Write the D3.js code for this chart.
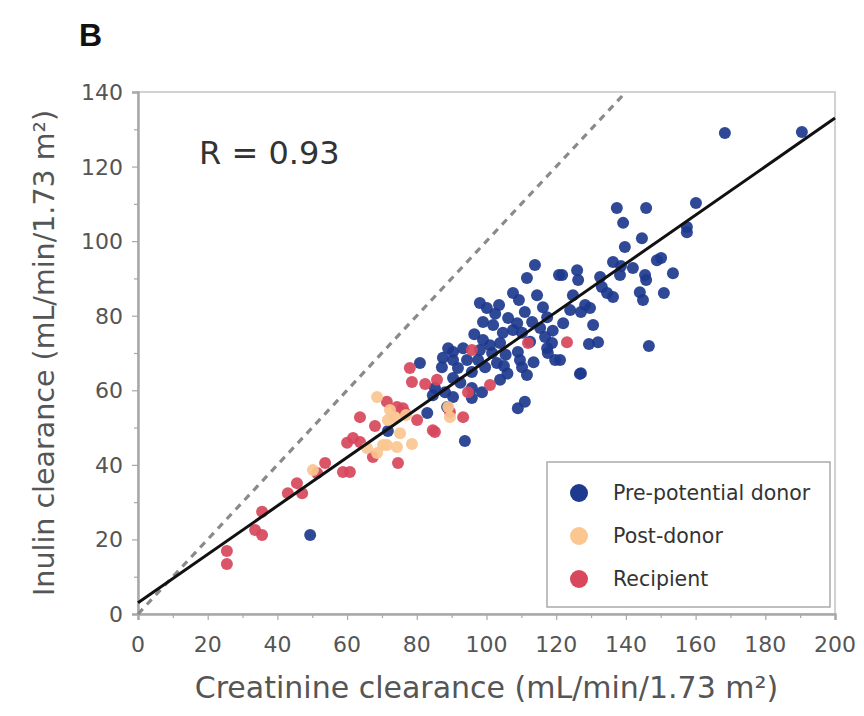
<!DOCTYPE html>
<html><head><meta charset="utf-8">
<script src="https://cdn.jsdelivr.net/npm/d3@7"></script>
<style>body{margin:0;background:#fff}svg{display:block}</style>
</head><body>
<script>
// ---- data ----
const preDonor = [[168.4,129.0],[190.5,129.3],[137.4,108.9],[145.8,108.9],[139.2,104.9],[160.1,110.2],[157.5,103.8],[157.5,102.4],[144.6,100.8],[139.7,98.4],[136.3,94.4],[148.9,94.9],[150.1,95.5],[138.6,93.3],[142.0,92.8],[153.5,91.4],[145.5,90.9],[145.8,89.6],[138.3,90.9],[126.0,92.2],[126.3,89.6],[121.7,90.9],[132.6,90.4],[133.1,87.7],[136.3,85.0],[134.6,86.1],[124.8,85.5],[144.0,86.3],[144.9,84.2],[150.9,86.1],[128.3,82.9],[129.7,82.1],[127.1,81.0],[122.0,78.0],[130.6,77.5],[129.4,72.4],[132.0,72.9],[146.6,71.9],[121.1,68.1],[127.1,64.6],[113.9,93.6],[111.6,90.1],[120.8,90.9],[107.6,86.1],[109.3,84.2],[114.5,85.5],[98.1,83.4],[100.1,82.1],[103.6,82.9],[116.2,82.3],[99.0,78.3],[101.9,77.5],[106.2,79.4],[108.8,78.0],[113.1,78.3],[117.4,79.6],[104.7,75.4],[107.6,76.2],[110.2,75.4],[115.4,76.7],[99.0,73.5],[101.0,72.1],[103.9,72.7],[116.8,74.3],[118.8,72.7],[89.0,71.3],[90.4,70.3],[93.3,71.3],[98.1,70.8],[101.6,70.0],[109.0,70.3],[117.4,71.3],[117.6,70.0],[87.5,68.7],[90.4,68.1],[94.4,68.1],[97.6,68.1],[109.6,68.1],[119.7,68.1],[80.9,67.3],[87.2,66.2],[91.8,66.0],[95.8,64.9],[99.6,66.2],[103.0,67.3],[110.2,66.2],[111.6,64.1],[126.8,64.4],[85.2,60.6],[90.4,63.3],[95.8,60.6],[88.1,59.5],[103.9,62.8],[98.7,59.5],[84.6,58.7],[95.8,57.9],[90.4,58.2],[109.0,55.2],[111.0,56.9],[88.7,55.5],[83.0,53.9],[93.8,46.4],[71.7,49.1],[49.4,21.2],[105.5,69.5],[96.5,75.0],[112.5,73.0],[106.0,64.5],[92.5,62.0],[102.5,80.5],[111.0,81.0],[119.0,76.0],[124.0,81.5],[105.0,66.5],[113.5,67.5]];
const postDonor = [[50.2,38.6],[68.6,58.2],[65.7,44.5],[71.4,45.3],[74.3,44.8],[78.6,45.6],[73.7,52.8],[71.7,52.0],[75.2,48.5],[68.6,43.2],[89.0,55.5],[89.5,52.8],[70.3,45.3],[72.3,54.7],[76.9,53.4]];
const recipient = [[25.5,16.9],[25.5,13.4],[33.6,22.5],[35.6,21.2],[35.6,27.4],[43.0,32.4],[47.1,32.4],[45.6,35.1],[53.7,40.5],[51.4,37.8],[58.8,38.1],[60.8,38.1],[60.0,45.9],[63.7,46.1],[67.4,42.1],[74.6,40.5],[61.7,47.2],[63.7,52.8],[68.0,50.4],[71.4,56.9],[74.3,55.5],[76.0,55.2],[80.1,52.0],[84.6,49.3],[78.0,66.0],[78.6,62.2],[82.4,61.7],[85.8,62.8],[111.9,72.7],[123.1,72.9],[95.8,70.8],[101.0,61.4],[94.7,59.5],[89.5,54.2],[93.3,52.8],[76.6,53.9],[85.2,48.8]];
const seriesNames = ["Pre-potential donor","Post-donor","Recipient"];
const seriesColors = ["#1d3a8e","#fbc690","#d8475c"];
const regression = {intercept: 3, slope: 0.65};
const rText = "R = 0.93";
const xTicks = [0,20,40,60,80,100,120,140,160,180,200];
const yTicks = [0,20,40,60,80,100,120,140];

// ---- layout ----
const W = 864, H = 716;
const m = {left:138, right:29, top:92, bottom:102};
const svg = d3.select("body").append("svg").attr("width",W).attr("height",H);
const x = d3.scaleLinear().domain([0,200]).range([m.left, W-m.right]);
const y = d3.scaleLinear().domain([0,140]).range([H-m.bottom, m.top]);
const font = "'DejaVu Sans', Verdana, sans-serif";
const axisCol = "#a8a8a8", textCol = "#555";

// frame
svg.append("rect").attr("x",x(0)).attr("y",y(140)).attr("width",x(200)-x(0)).attr("height",y(0)-y(140))
  .attr("fill","none").attr("stroke","#d2d2d2").attr("stroke-width",2);

// axes
const xAx = svg.append("g").attr("transform",`translate(0,${y(0)})`)
  .call(d3.axisBottom(x).tickValues(d3.range(0,201,10)).tickSize(6).tickFormat(""));
const yAx = svg.append("g").attr("transform",`translate(${x(0)},0)`)
  .call(d3.axisLeft(y).tickValues(d3.range(0,141,10)).tickSize(6).tickFormat(""));
[xAx,yAx].forEach(g=>{
  g.select(".domain").attr("stroke",axisCol).attr("stroke-width",2.5);
  g.selectAll(".tick line").attr("stroke",axisCol).attr("stroke-width",1.2);
});
xAx.selectAll(".tick").filter(d=>d%20!==0).select("line").attr("y2",4);
yAx.selectAll(".tick").filter(d=>d%20!==0).select("line").attr("x2",-4);

svg.append("g").selectAll("text").data(xTicks).join("text")
  .attr("x",d=>x(d)).attr("y",y(0)+38).attr("text-anchor","middle")
  .attr("font-family",font).attr("font-size",22).attr("fill",textCol).text(d=>d);
svg.append("g").selectAll("text").data(yTicks).join("text")
  .attr("x",x(0)-15).attr("y",d=>y(d)+8).attr("text-anchor","end")
  .attr("font-family",font).attr("font-size",22).attr("fill",textCol).text(d=>d);

// titles
svg.append("text").attr("x",(x(0)+x(200))/2).attr("y",698).attr("text-anchor","middle")
  .attr("font-family",font).attr("font-size",30).attr("fill",textCol)
  .text("Creatinine clearance (mL/min/1.73 m²)");
svg.append("text").attr("transform",`translate(54,${(y(0)+y(140))/2}) rotate(-90)`).attr("text-anchor","middle")
  .attr("font-family",font).attr("font-size",28.5).attr("fill",textCol)
  .text("Inulin clearance (mL/min/1.73 m²)");
svg.append("text").attr("x",79).attr("y",46).attr("font-family","'Liberation Sans', Arial, sans-serif")
  .attr("font-weight","bold").attr("font-size",32).attr("fill","#111").text("B");

// identity dashed line
svg.append("line").attr("x1",x(0)).attr("y1",y(0)).attr("x2",x(140)).attr("y2",y(140))
  .attr("stroke","#8a8a8a").attr("stroke-width",3.2).attr("stroke-dasharray","7,6");

// points
const all = [preDonor, postDonor, recipient];
const order = [0,2,1];
order.forEach(i=>{
  svg.append("g").selectAll("circle").data(all[i]).join("circle")
    .attr("cx",d=>x(d[0])).attr("cy",d=>y(d[1])).attr("r",6)
    .attr("fill",seriesColors[i]).attr("fill-opacity",0.92);
});

// regression line
svg.append("line").attr("x1",x(0)).attr("y1",y(regression.intercept))
  .attr("x2",x(200)).attr("y2",y(regression.intercept+regression.slope*200))
  .attr("stroke","#111").attr("stroke-width",3);

// R label
svg.append("text").attr("x",199).attr("y",164).attr("font-family",font).attr("font-size",32)
  .attr("fill","#333").text(rText);

// legend
const lg = svg.append("g");
lg.append("rect").attr("x",547).attr("y",462).attr("width",283).attr("height",145)
  .attr("fill","#fff").attr("stroke","#aaa").attr("stroke-width",1.5);
seriesNames.forEach((n,i)=>{
  const cy = 493 + i*43;
  lg.append("circle").attr("cx",579).attr("cy",cy).attr("r",9).attr("fill",seriesColors[i]);
  lg.append("text").attr("x",613).attr("y",cy+7).attr("font-family",font).attr("font-size",20.5)
    .attr("fill","#333").text(n);
});
</script>
</body></html>
